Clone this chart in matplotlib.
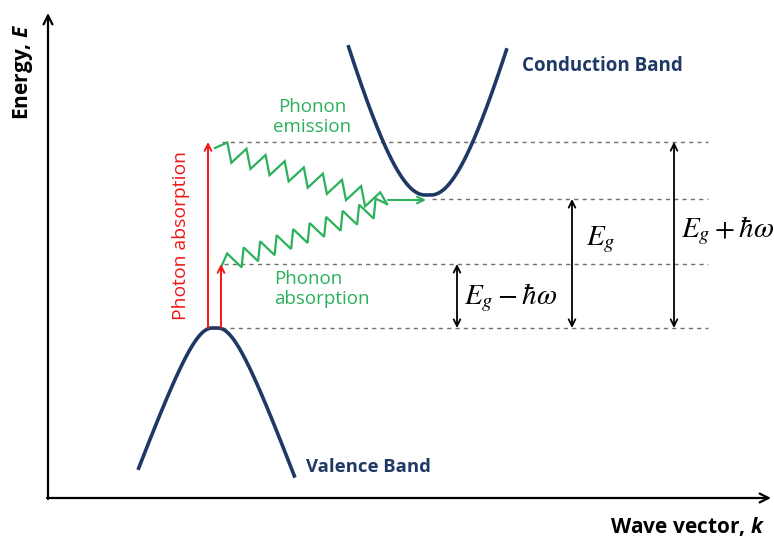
import matplotlib.pyplot as plt
import numpy as np

# custom math set for the axis letters (sans bold italic), stix for the gap labels
plt.rcParams['mathtext.fontset'] = 'custom'
plt.rcParams['mathtext.rm'] = 'Open Sans'
plt.rcParams['mathtext.it'] = 'Open Sans:italic'
plt.rcParams['mathtext.bf'] = 'Open Sans:bold'
plt.rcParams['mathtext.bfit'] = 'Open Sans:italic:bold'

# sketch works in pixel units of the original drawing (y grows downward)
# energy levels drawn as dashed guides
level_y = [142, 199, 264, 328]
level_x_start = [222, 432, 224, 205]
level_x_end = 708

# conduction band and valence band: apex, k range, flat half-width, width, scale
cb_min = (428, 195)
cb_k_range = (348, 507)
cb_flat, cb_width, cb_scale = 3, 55, 208
vb_max = (215, 328)
vb_k_range = (138, 295)
vb_flat, vb_width, vb_scale = 3, 27, 74

# photon absorption arrows (red)
photon_x = [208, 221]
photon_from = [328, 328]
photon_to = [142, 264]

# phonon zigzags (green): start, end, teeth
phonon_start = [(215, 148), (222, 265)]
phonon_end = [(387, 204), (387, 204)]
phonon_teeth = [9, 10]
phonon_arrow = [(388, 200), (426, 200)]

# energy gap arrows
gap_x = [457, 572, 674]
gap_top = [264, 199, 142]
gap_bottom = 328
gap_labels = [r"$E_g-\hbar\omega$", r"$E_g$", r"$E_g+\hbar\omega$"]
gap_label_xy = [(464, 298), (586, 240), (681, 231)]

navy = '#1f3864'
green = '#2bb05c'
red = '#f01818'


def band(k, k0, e0, flat, width, scale, sign):
    dk = np.maximum(np.abs(k - k0) - flat, 0)
    return e0 + sign * scale * (np.sqrt(1 + (dk / width) ** 2) - 1)


def zigzag(p0, p1, n_teeth, amp):
    p0 = np.array(p0, float)
    p1 = np.array(p1, float)
    d = p1 - p0
    u = d / np.hypot(*d)
    nrm = np.array([u[1], -u[0]])
    t = np.linspace(0, 1, 2 * n_teeth + 1)
    off = np.zeros_like(t)
    off[1:-1:2] = amp
    off[2:-1:2] = -amp
    pts = p0 + np.outer(t, d) + np.outer(off, nrm)
    return pts[:, 0], pts[:, 1]


fig = plt.figure(figsize=(7.74, 5.39), dpi=100)
ax = fig.add_axes([0, 0, 1, 1])
ax.set_xlim(0, 774)
ax.set_ylim(539, 0)
ax.axis('off')

# axes
ax.annotate('', xy=(48, 13), xytext=(48, 499),
            arrowprops=dict(arrowstyle='->', lw=1.6, color='black',
                            shrinkA=0, shrinkB=0, mutation_scale=16))
ax.annotate('', xy=(771, 498), xytext=(47, 498),
            arrowprops=dict(arrowstyle='->', lw=1.6, color='black',
                            shrinkA=0, shrinkB=0, mutation_scale=16))
ax.text(23, 72, r'Energy, $\mathbfit{E}$', rotation=90, ha='center', va='center',
        fontsize=15, fontweight='bold', family='Open Sans')
ax.text(765, 527, r'Wave vector, $\mathbfit{k}$', ha='right', va='center',
        fontsize=15, fontweight='bold', family='Open Sans')

# dashed levels
for y, xs in zip(level_y, level_x_start):
    ax.plot([xs, level_x_end], [y, y], ls=(0, (3, 3)), color='#707070', lw=1)

# bands
k = np.linspace(*cb_k_range, 400)
ax.plot(k, band(k, cb_min[0], cb_min[1], cb_flat, cb_width, cb_scale, -1),
        color=navy, lw=2.6, solid_capstyle='butt')
k = np.linspace(*vb_k_range, 400)
ax.plot(k, band(k, vb_max[0], vb_max[1], vb_flat, vb_width, vb_scale, 1),
        color=navy, lw=2.6, solid_capstyle='butt')
ax.text(522, 66, 'Conduction Band', ha='left', va='center', fontsize=13.5,
        fontweight='bold', color=navy, family='Open Sans')
ax.text(306, 467, 'Valence Band', ha='left', va='center', fontsize=13.3,
        fontweight='bold', color=navy, family='Open Sans')

# photon arrows
for x, y0, y1 in zip(photon_x, photon_from, photon_to):
    ax.annotate('', xy=(x, y1), xytext=(x, y0),
                arrowprops=dict(arrowstyle='->', lw=1.4, color=red,
                                shrinkA=0, shrinkB=0, mutation_scale=12))
ax.text(181, 236, 'Photon absorption', rotation=90, ha='center', va='center',
        fontsize=13.9, color=red, family='Open Sans')

# phonon zigzags
for p0, p1, n in zip(phonon_start, phonon_end, phonon_teeth):
    zx, zy = zigzag(p0, p1, n, 9)
    ax.plot(zx, zy, color=green, lw=1.6, solid_joinstyle='miter')
ax.annotate('', xy=phonon_arrow[1], xytext=phonon_arrow[0],
            arrowprops=dict(arrowstyle='->', lw=1.5, color=green,
                            shrinkA=0, shrinkB=0, mutation_scale=12))
ax.text(312, 117, 'Phonon\nemission', ha='center', va='center', fontsize=13.5,
        color=green, family='Open Sans', linespacing=1.2)
ax.text(274, 289, 'Phonon\nabsorption', ha='left', va='center', fontsize=13.5,
        color=green, family='Open Sans', linespacing=1.2)

# gap arrows
for x, yt, lab, (lx, ly) in zip(gap_x, gap_top, gap_labels, gap_label_xy):
    ax.annotate('', xy=(x, yt), xytext=(x, gap_bottom),
                arrowprops=dict(arrowstyle='<->', lw=1.3, color='black',
                                shrinkA=0, shrinkB=0, mutation_scale=12))
    ax.text(lx, ly, lab, ha='left', va='center', fontsize=21,
            math_fontfamily='stix')

fig.savefig('out.png', dpi=100)
